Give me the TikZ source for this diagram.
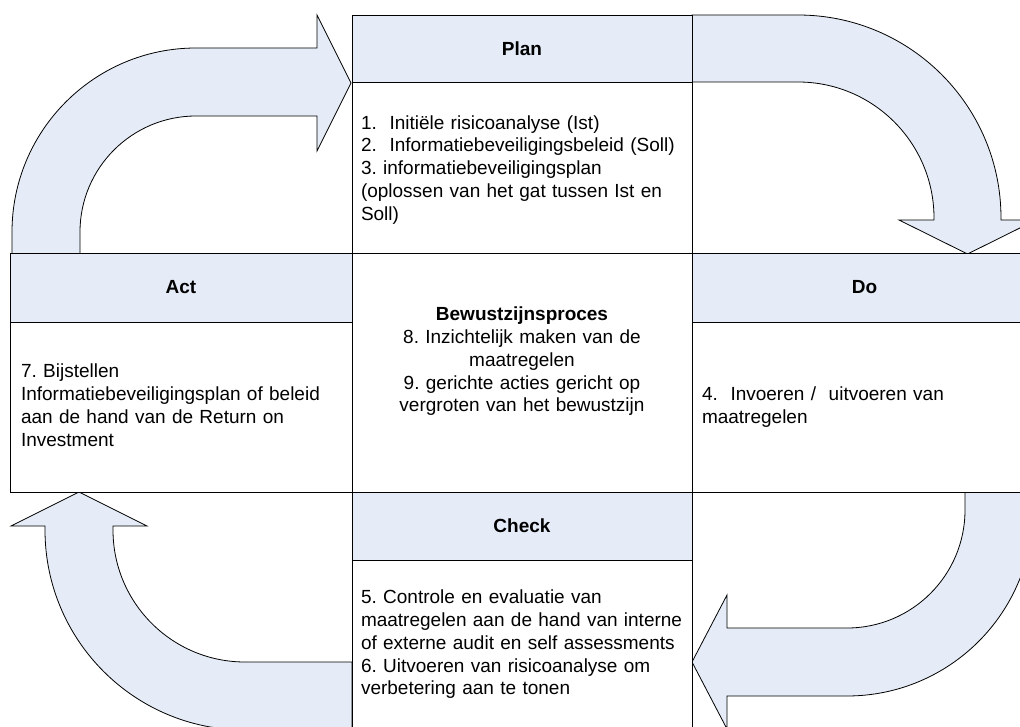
\documentclass[tikz,border=0pt]{standalone}
\usepackage{fontspec}
\setmainfont{Liberation Sans}
\definecolor{hdrblue}{RGB}{229,236,247}
\newcommand{\pdcabody}{\fontsize{19}{22.7}\selectfont\frenchspacing}
\newcommand{\pdcahdr}{\fontsize{19}{22.7}\selectfont\bfseries}
\begin{document}
\begin{tikzpicture}[x=1pt,y=-1pt,
  arrowshape/.style={fill=hdrblue,draw=black,line width=0.8pt,line join=miter},
  hdrbox/.style={draw=black,line width=0.8pt,fill=hdrblue,inner sep=0pt,outer sep=0pt,anchor=north west,font=\pdcahdr},
  bodybox/.style={draw=black,line width=0.8pt,fill=white,inner sep=0pt,outer sep=0pt,anchor=north west},
  bodytext/.style={anchor=north west,inner sep=0pt,outer sep=0pt,align=left,font=\pdcabody,text width=328pt},
  centertext/.style={anchor=north,inner sep=0pt,outer sep=0pt,align=center,font=\pdcabody,text width=330pt}]
\useasboundingbox (0,0) rectangle (1020,727);
\clip (0,0) rectangle (1020,727);
\fill[white] (0,0) rectangle (1020,727);
% curved arrows
\path[arrowshape] (12,254) -- (12,232) arc[start angle=180,end angle=270,radius=184]
  -- (317,48) -- (317,15) -- (351,83) -- (317,151) -- (317,116) -- (196,116)
  arc[start angle=270,end angle=180,radius=116] -- (80,254) -- cycle;
\path[arrowshape] (692,15) -- (798,15) arc[start angle=270,end angle=360,radius=203]
  -- (1001,220) -- (1036,220) -- (967.5,254) -- (899,220) -- (934,220) -- (934,218)
  arc[start angle=0,end angle=-90,radius=136] -- (692,82) -- cycle;
\path[arrowshape] (965,492) -- (965,510) arc[start angle=0,end angle=90,radius=118]
  -- (727,628) -- (727,595) -- (692,662) -- (727,729) -- (727,696) -- (847,696)
  arc[start angle=90,end angle=0,radius=186] -- (1033,492) -- cycle;
\path[arrowshape] (352,662) -- (245,662) arc[start angle=90,end angle=180,radius=132]
  -- (113,526) -- (147,526) -- (79,492) -- (11,526) -- (45,526) -- (45,530)
  arc[start angle=180,end angle=90,radius=200] -- (352,730) -- cycle;
% boxes
\node[hdrbox,minimum width=340pt,minimum height=67pt] (planhdr) at (352,15) {Plan};
\node[bodybox,minimum width=340pt,minimum height=171pt] (planbody) at (352,82) {};
\node[hdrbox,minimum width=342pt,minimum height=69pt] (acthdr) at (10,253) {Act};
\node[bodybox,minimum width=342pt,minimum height=170pt] (actbody) at (10,322) {};
\node[bodybox,minimum width=340pt,minimum height=239pt] (centerbox) at (352,253) {};
\node[hdrbox,minimum width=345pt,minimum height=69pt] (dohdr) at (692,253) {Do};
\node[bodybox,minimum width=345pt,minimum height=170pt] (dobody) at (692,322) {};
\node[hdrbox,minimum width=340pt,minimum height=68pt] (checkhdr) at (352,492) {Check};
\node[bodybox,minimum width=340pt,minimum height=250pt] (checkbody) at (352,560) {};
% texts
\node[bodytext] (plantext) at (361,113.4) {\strut 1.\ \ Initiële risicoanalyse (Ist)\\2.\ \ Informatiebeveiligingsbeleid (Soll)\\3. informatiebeveiligingsplan\\(oplossen van het gat tussen Ist en\\Soll)};
\node[bodytext] (acttext) at (21,362.1) {\strut 7. Bijstellen\\Informatiebeveiligingsplan of beleid\\aan de hand van de Return on\\Investment};
\node[centertext] (centertxt) at (522,305.1) {\strut\textbf{Bewustzijnsproces}\\8. Inzichtelijk maken van de\\maatregelen\\9. gerichte acties gericht op\\vergroten van het bewustzijn};
\node[bodytext] (dotext) at (702,385.1) {\strut 4.\ \ Invoeren /\ \ uitvoeren van\\maatregelen};
\node[bodytext] (checktext) at (361,588.1) {\strut 5. Controle en evaluatie van\\maatregelen aan de hand van interne\\of externe audit en self assessments\\6. Uitvoeren van risicoanalyse om\\verbetering aan te tonen};
\end{tikzpicture}
\end{document}
